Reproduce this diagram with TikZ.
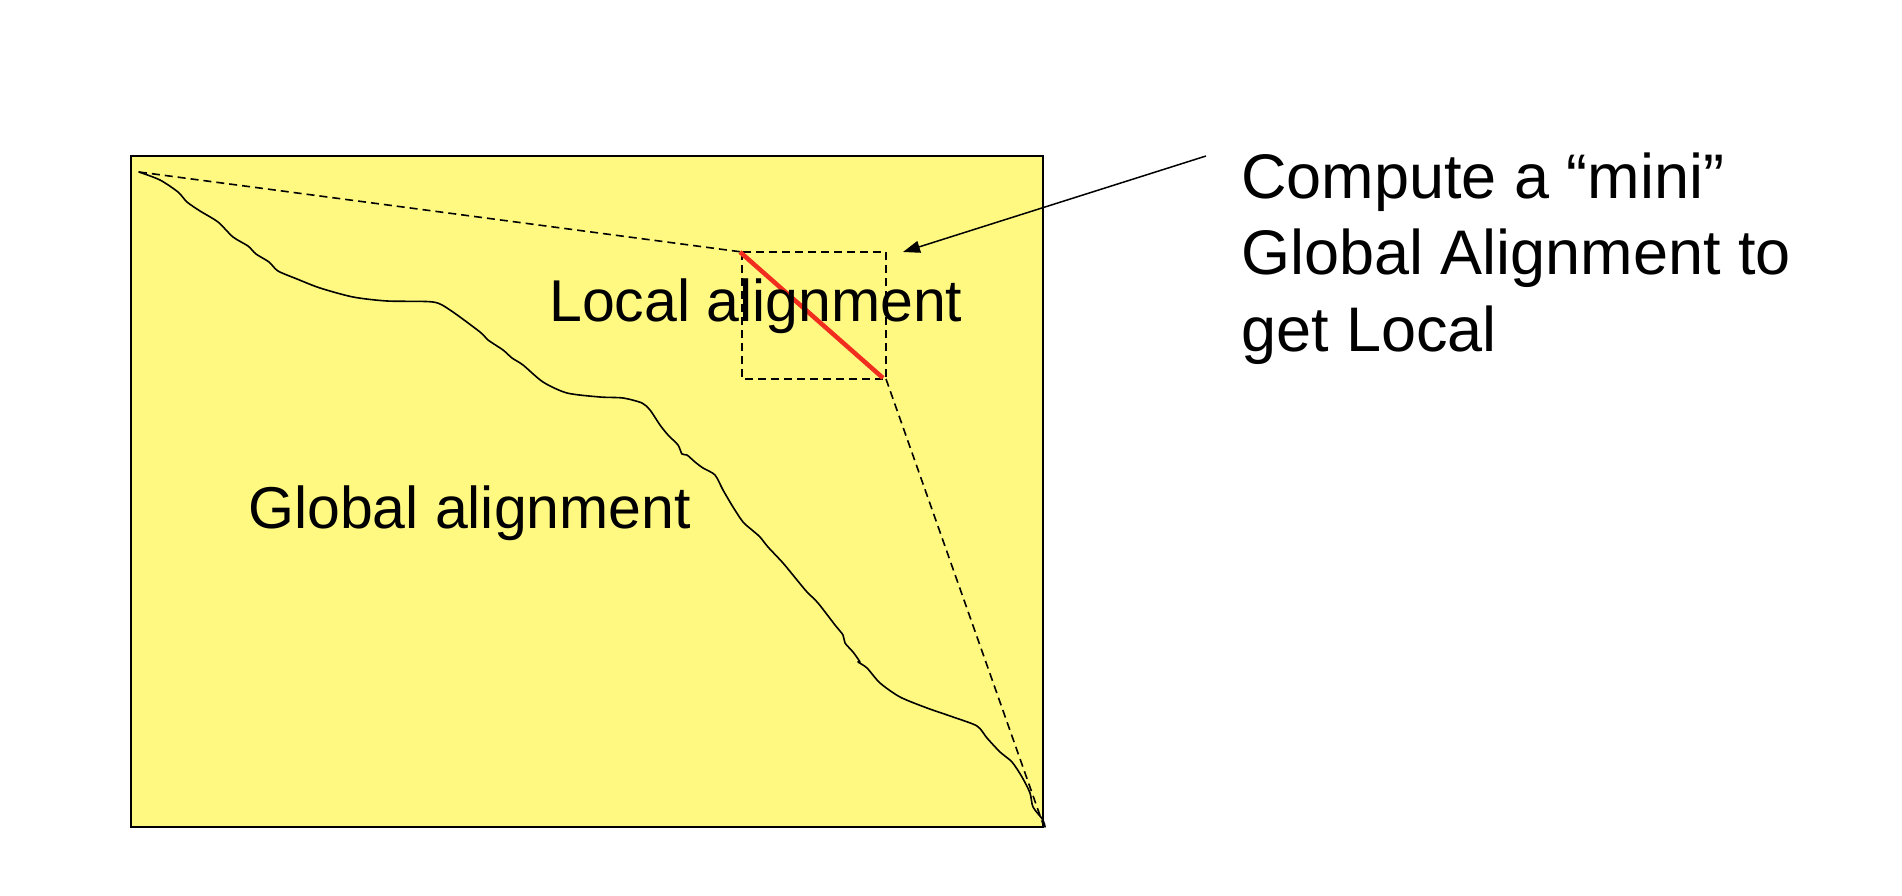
\documentclass[tikz,border=0pt]{standalone}
\usepackage{fontspec}
\setmainfont{Liberation Sans}
\usetikzlibrary{arrows.meta}
\definecolor{padyellow}{RGB}{255,249,130}
\definecolor{alnred}{RGB}{240,45,30}
\begin{document}
\begin{tikzpicture}[x=1pt,y=-1pt,
  frame/.style={draw=black,line width=1.6pt,fill=padyellow},
  dashln/.style={draw=black,line width=1.6pt,dash pattern=on 8pt off 5pt},
  pathln/.style={draw=black,line width=1.6pt,line join=round,line cap=round},
  redln/.style={draw=alnred,line width=4.5pt},
  arrowln/.style={draw=black,line width=1.5pt,-{Triangle[length=17pt,width=12pt]}},
  lbl/.style={inner sep=0pt,anchor=base west,font=\fontsize{59}{70}\selectfont},
  note/.style={inner sep=0pt,anchor=base west,font=\fontsize{63}{76}\selectfont}]
\useasboundingbox (0,0) rectangle (1902,896);
% corners of the matrix
\coordinate (tl) at (131,156);
\coordinate (br) at (1043,827);
\coordinate (start) at (139,172);
\coordinate (finish) at (1043,824);
% local alignment box
\coordinate (lbtl) at (742,252);
\coordinate (lbbr) at (886,379);
\coordinate (rs) at (740,252);
\coordinate (re) at (883,378);
\path[frame] (tl) rectangle (br);
% global alignment path
\draw[pathln] plot[smooth,tension=0.45] coordinates {
 (139,172) (160,180) (178,192) (187,202) (200,211) (218,222) (233,237)
 (248,246) (256,254) (269,262) (278,271) (297,279) (320,288) (353,297)
 (387,301) (433,302) (450,310) (480,332) (488,340) (503,350) (512,358)
 (523,365) (543,382) (567,393) (600,397) (623,398) (642,403) (650,410)
 (660,425) (668,435) (678,445) (682,454) (687,455) (695,462) (703,468)
 (715,475) (723,490) (733,507) (743,522) (752,530) (760,537) (768,547)
 (783,563) (797,580) (807,592) (818,603) (835,625) (843,635) (845,643)
 (853,652) (860,662) (858,662) (867,668) (880,683) (900,697) (927,708)
 (953,717) (977,726) (987,738) (1000,752) (1012,762) (1022,777)
 (1030,793) (1033,807) (1043,820) (1045,827)};
% dashed guide lines
\draw[dashln] (start) -- (lbtl);
\draw[dashln] (lbbr) -- (finish);
\draw[dashln] (lbtl) rectangle (lbbr);
% red local alignment
\draw[redln] (rs) -- (re);
% labels
\node[lbl] (local) at (549,321) {Local alignment};
\node[lbl] (global) at (248,528) {Global alignment};
\node[note] (n1) at (1241,198) {Compute a “mini”};
\node[note] (n2) at (1241,274) {Global Alignment to};
\node[note] (n3) at (1241,351) {get Local};
% arrow
\coordinate (as) at (1206,156);
\coordinate (at) at (903,252);
\draw[arrowln] (as) -- (at);
\end{tikzpicture}
\end{document}
